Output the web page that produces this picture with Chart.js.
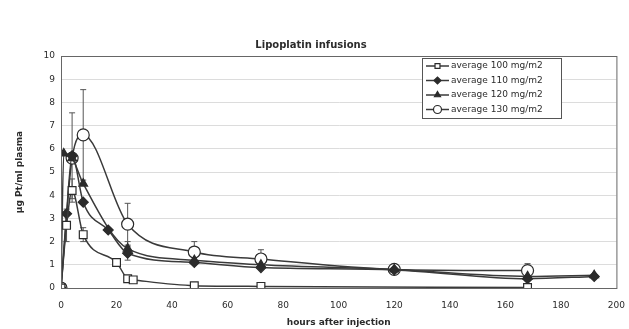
<!DOCTYPE html>
<html>
<head>
<meta charset="utf-8">
<script src="https://cdn.jsdelivr.net/npm/chart.js@4.4.1/dist/chart.umd.min.js"></script>
<style>
  html, body { margin: 0; padding: 0; background: #ffffff; }
  #wrap { width: 629px; height: 329px; position: relative; }
</style>
</head>
<body>
<div id="wrap"><canvas id="pk"></canvas></div>
<script>
// ---- data ----
const seriesNames = ["average 100 mg/m2", "average 110 mg/m2", "average 120 mg/m2", "average 130 mg/m2"];

const hours100 = [0, 2, 4, 8, 20, 24, 26, 48, 72, 168];
const conc100  = [0, 2.7, 4.2, 2.3, 1.1, 0.4, 0.35, 0.1, 0.07, 0.02];
const err100   = [0, 0.7, 0.5, 0.3, 0, 0, 0, 0, 0, 0];

const hours110 = [0, 2, 4, 8, 17, 24, 48, 72, 120, 168, 192];
const conc110  = [0, 3.2, 5.7, 3.7, 2.5, 1.5, 1.1, 0.88, 0.78, 0.4, 0.5];
const err110   = [0, 0, 1.85, 0, 0, 0.3, 0, 0, 0, 0, 0];

const hours120 = [0, 1, 4, 8, 24, 48, 72, 120, 168, 192];
const conc120  = [0, 5.8, 5.6, 4.5, 1.7, 1.2, 1.0, 0.8, 0.5, 0.55];
const err120   = [0, 0, 0, 0, 0.3, 0, 0, 0.15, 0, 0];

const hours130 = [0, 4, 8, 24, 48, 72, 120, 168];
const conc130  = [0, 5.6, 6.6, 2.75, 1.55, 1.25, 0.8, 0.75];
const err130   = [0, 0, 1.95, 0.9, 0.45, 0.4, 0, 0.3];

const yTicks = [0, 1, 2, 3, 4, 5, 6, 7, 8, 9, 10];

const FONT = "'DejaVu Sans', Verdana, sans-serif";
const INK = "#2b2b2b";

function toPoints(xs, ys) {
    return xs.map((x, i) => ({ x: x, y: ys[i] }));
}

const datasets = [
    { label: seriesNames[0], data: toPoints(hours100, conc100), errors: err100,
      pointStyle: "rect", pointRadius: 5.5, pointBackgroundColor: "#ffffff" },
    { label: seriesNames[1], data: toPoints(hours110, conc110), errors: err110,
      pointStyle: "rectRot", pointRadius: 5, pointBackgroundColor: INK },
    { label: seriesNames[2], data: toPoints(hours120, conc120), errors: err120,
      pointStyle: "triangle", pointRadius: 5, pointBackgroundColor: INK },
    { label: seriesNames[3], data: toPoints(hours130, conc130), errors: err130,
      pointStyle: "circle", pointRadius: 6, pointBackgroundColor: "#ffffff" }
].map(ds => Object.assign(ds, {
    showLine: true,
    cubicInterpolationMode: "monotone",
    borderColor: "#3a3a3a",
    borderWidth: 1.5,
    pointBorderColor: INK,
    pointBorderWidth: 1.2
}));

// error bars: drawn before the lines, through the chart's own scales
const errorBars = {
    id: "errorBars",
    beforeDatasetsDraw(chart) {
        const { ctx, scales: { x, y } } = chart;
        ctx.save();
        ctx.strokeStyle = "#555";
        ctx.lineWidth = 1;
        chart.data.datasets.forEach(ds => {
            ds.data.forEach((p, i) => {
                const e = ds.errors[i];
                if (!e) return;
                const px = x.getPixelForValue(p.x);
                const top = y.getPixelForValue(p.y + e);
                const bot = y.getPixelForValue(p.y - e);
                ctx.beginPath();
                ctx.moveTo(px, top); ctx.lineTo(px, bot);
                ctx.moveTo(px - 3, top); ctx.lineTo(px + 3, top);
                ctx.moveTo(px - 3, bot); ctx.lineTo(px + 3, bot);
                ctx.stroke();
            });
        });
        ctx.restore();
    }
};

// frame round the plot and the boxed legend in the top right corner
const frameAndLegend = {
    id: "frameAndLegend",
    afterDraw(chart) {
        const { ctx, chartArea: a } = chart;
        ctx.save();
        ctx.strokeStyle = "#666";
        ctx.lineWidth = 1;
        ctx.strokeRect(a.left + 0.5, a.top + 0.5, a.right - a.left, a.bottom - a.top);

        const bx = 422, by = 58, bw = 139, bh = 60;
        ctx.fillStyle = "#ffffff";
        ctx.fillRect(bx, by, bw, bh);
        ctx.strokeStyle = "#555";
        ctx.strokeRect(bx + 0.5, by + 0.5, bw, bh);

        ctx.font = "9px " + FONT;
        ctx.textBaseline = "middle";
        chart.data.datasets.forEach((ds, i) => {
            const ry = by + 8 + i * 14.5;
            ctx.strokeStyle = "#3a3a3a";
            ctx.lineWidth = 1.5;
            ctx.beginPath();
            ctx.moveTo(bx + 4, ry); ctx.lineTo(bx + 27, ry);
            ctx.stroke();
            ctx.fillStyle = ds.pointBackgroundColor;
            ctx.strokeStyle = INK;
            ctx.lineWidth = 1.2;
            Chart.helpers.drawPoint(ctx, {
                pointStyle: ds.pointStyle,
                radius: ds.pointStyle === "circle" ? 4 : 3.5,
                rotation: 0,
                borderWidth: 1.2
            }, bx + 15.5, ry);
            ctx.fillStyle = INK;
            ctx.fillText(ds.label, bx + 29, ry);
        });
        ctx.restore();
    }
};

new Chart(document.getElementById("pk").getContext("2d"), {
    type: "scatter",
    data: { datasets: datasets },
    plugins: [errorBars, frameAndLegend],
    options: {
        responsive: true,
        maintainAspectRatio: false,
        animation: false,
        layout: { padding: { left: 0, right: 7, top: 0, bottom: 0 } },
        plugins: {
            legend: { display: false },
            tooltip: { enabled: false },
            title: {
                display: true,
                text: "Lipoplatin infusions",
                color: INK,
                font: { family: FONT, size: 10, weight: "bold" },
                padding: { top: 39, bottom: 5 }
            }
        },
        scales: {
            x: {
                type: "linear",
                min: 0,
                max: 200,
                afterFit(scale) { scale.height = 41; },
                ticks: { stepSize: 20, color: INK, font: { family: FONT, size: 9 }, padding: 4 },
                grid: { display: false },
                border: { color: "#555", width: 1 },
                title: {
                    display: true,
                    text: "hours after injection",
                    color: INK,
                    font: { family: FONT, size: 9, weight: "bold" },
                    padding: { top: 0, bottom: 1 }
                }
            },
            y: {
                min: 0,
                max: 10,
                afterFit(scale) { scale.width = 61; },
                afterBuildTicks(scale) { scale.ticks = yTicks.map(v => ({ value: v })); },
                ticks: { color: INK, font: { family: FONT, size: 9 }, padding: 6 },
                grid: { color: "#dcdcdc", drawTicks: false },
                border: { color: "#555", width: 1 },
                title: {
                    display: true,
                    text: "µg Pt/ml plasma",
                    color: INK,
                    font: { family: FONT, size: 9, weight: "bold" },
                    padding: { top: 14, bottom: 0 }
                }
            }
        }
    }
});
</script>
</body>
</html>
